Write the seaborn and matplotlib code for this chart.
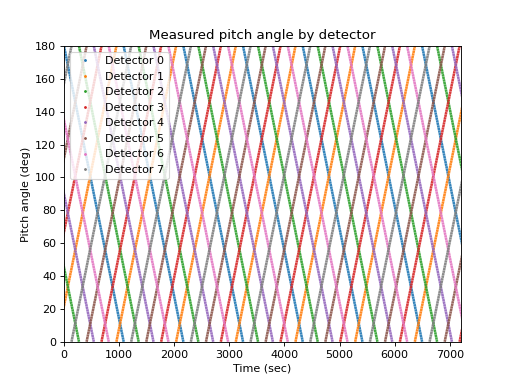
import matplotlib
matplotlib.use('Agg')
import matplotlib.pyplot as plt
from matplotlib.lines import Line2D
import pandas as pd
import seaborn as sns

# Время (сек), когда угол каждого детектора проходит через 0/180
det0 = [0, 1083, 2166, 3249, 4332, 5415, 6498, 7581]
det1 = [-132, 951, 2034, 3117, 4200, 5283, 6366, 7449]
det2 = [-811, 272, 1355, 2438, 3521, 4604, 5687, 6770, 7853]
det3 = [-403, 680, 1763, 2846, 3929, 5012, 6095, 7178, 8261]
det4 = [-542, 541, 1624, 2707, 3790, 4873, 5956, 7039, 8122]
det5 = [-673, 410, 1493, 2576, 3659, 4742, 5825, 6908, 7991]
det6 = [-271, 812, 1895, 2978, 4061, 5144, 6227, 7310]
det7 = [-947, 136, 1219, 2302, 3385, 4468, 5551, 6634, 7717]

crossings = [det0, det1, det2, det3, det4, det5, det6, det7]
# Нечетные детекторы растут, четные падают
start_angle = [180, 0, 180, 0, 180, 0, 180, 0]
end_angle = [0, 180, 0, 180, 0, 180, 0, 180]
labels = [f'Detector {i}' for i in range(8)]

rows = []
for i in range(8):
    times = crossings[i]
    for j in range(len(times) - 1):
        rows.append((labels[i], j, times[j], start_angle[i]))
        rows.append((labels[i], j, times[j + 1], end_angle[i]))
df = pd.DataFrame(rows, columns=['detector', 'sweep', 'time', 'angle'])

colors = sns.color_palette('tab10', 8)

fig, ax = plt.subplots(figsize=(6.4, 4.8), dpi=80)
sns.lineplot(
    data=df,
    x='time', y='angle',
    hue='detector', hue_order=labels,
    units='sweep', estimator=None,
    palette=colors,
    sort=False,
    linewidth=2.3,
    alpha=0.9,
    linestyle=(0, (0.9, 0.12)),
    legend=False,
    ax=ax
)

ax.set_xlim(0, 7200)
ax.set_ylim(0, 180)
ax.set_xlabel('Time (sec)')
ax.set_ylabel('Pitch angle (deg)')
ax.set_title('Measured pitch angle by detector')

# В легенде только точки, без линий
handles = [Line2D([], [], color=colors[i], linestyle='none', marker='.', markersize=3)
           for i in range(8)]
ax.legend(handles, labels, loc='upper left')

fig.savefig('out.png', dpi=80)
